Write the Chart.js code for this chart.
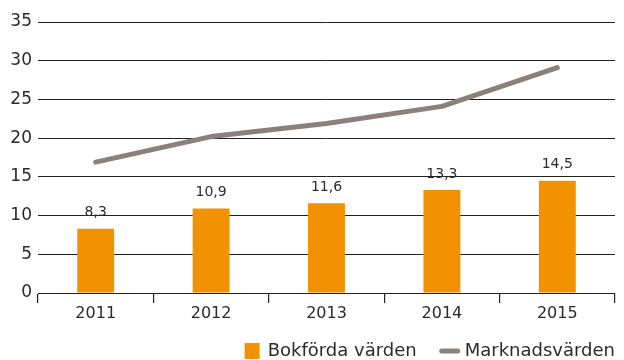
<!DOCTYPE html>
<html>
<head>
<meta charset="utf-8">
<script src="https://cdn.jsdelivr.net/npm/chart.js@4"></script>
<style>
  html, body { margin: 0; padding: 0; background: #fff; }
  #wrap { width: 624px; height: 360px; }
</style>
</head>
<body>
<div id="wrap"><canvas id="valueChart" width="624" height="360"></canvas></div>
<script>
const years = ["2011", "2012", "2013", "2014", "2015"]
const bookValues = [8.3, 10.9, 11.6, 13.3, 14.5]
const marketValues = [16.9, 20.2, 21.9, 24.1, 29.1]
const yTicks = [0, 5, 10, 15, 20, 25, 30, 35]

const FONT = "'DejaVu Sans', sans-serif"
const TEXT = "#2b2b2b"
const ORANGE = "#f39200"
const GREY = "#8a817c"

const fmt = (v) => v.toFixed(1).replace(".", ",")

// numbers above the bars
const barLabels = {
  id: "barLabels",
  afterDatasetsDraw(chart) {
    const ctx = chart.ctx
    const meta = chart.getDatasetMeta(0)
    ctx.save()
    ctx.font = "14px " + FONT
    ctx.fillStyle = TEXT
    ctx.textAlign = "center"
    ctx.textBaseline = "bottom"
    meta.data.forEach((bar, i) => {
      ctx.fillText(fmt(bookValues[i]), bar.x, bar.y - 9)
    })
    ctx.restore()
  },
}

// legend row, right aligned under the chart
const bottomLegend = {
  id: "bottomLegend",
  afterDraw(chart) {
    const ctx = chart.ctx
    const items = chart.data.datasets.map((d) => ({ label: d.label, type: d.type || "bar", color: d.type === "line" ? d.borderColor : d.backgroundColor }))
    ctx.save()
    ctx.font = "18px " + FONT
    ctx.textBaseline = "middle"
    const y = 351
    let x = 615
    for (let i = items.length - 1; i >= 0; i--) {
      const it = items[i]
      const w = ctx.measureText(it.label).width
      x -= w
      ctx.fillStyle = TEXT
      ctx.fillText(it.label, x, y)
      if (it.type === "line") {
        x -= 5
        ctx.strokeStyle = it.color
        ctx.lineWidth = 5
        ctx.lineCap = "round"
        ctx.beginPath()
        ctx.moveTo(x - 18, y)
        ctx.lineTo(x - 2, y)
        ctx.stroke()
        x -= 20
      } else {
        x -= 8
        ctx.fillStyle = it.color
        ctx.fillRect(x - 15, y - 8, 15, 16)
        x -= 15
      }
      x -= 23
    }
    ctx.restore()
  },
}

const ctx = document.getElementById("valueChart").getContext("2d")
new Chart(ctx, {
  data: {
    labels: years,
    datasets: [
      {
        type: "bar",
        label: "Bokförda värden",
        data: bookValues,
        backgroundColor: ORANGE,
        borderWidth: 0,
        barPercentage: 0.32,
        categoryPercentage: 1,
        order: 2,
      },
      {
        type: "line",
        label: "Marknadsvärden",
        data: marketValues,
        borderColor: GREY,
        borderWidth: 5,
        borderCapStyle: "round",
        borderJoinStyle: "round",
        pointRadius: 0,
        tension: 0,
        order: 1,
      },
    ],
  },
  options: {
    responsive: false,
    animation: false,
    layout: { padding: { top: 22, right: 9, bottom: 34, left: 0 } },
    plugins: {
      legend: { display: false },
      tooltip: { enabled: false },
    },
    scales: {
      x: {
        offset: true,
        grid: {
          offset: true,
          drawOnChartArea: false,
          drawTicks: true,
          tickLength: 10,
          color: "#222",
          lineWidth: 1.2,
        },
        border: { display: true, color: "#222", width: 1 },
        ticks: { color: TEXT, font: { family: FONT, size: 16 }, padding: 1 },
        afterFit(scale) {
          scale.height = 33
        },
      },
      y: {
        min: 0,
        max: 35,
        afterBuildTicks(scale) {
          scale.ticks = yTicks.map((v) => ({ value: v }))
        },
        grid: { drawTicks: false, color: "#222", lineWidth: 1 },
        border: { display: false },
        ticks: { color: TEXT, font: { family: FONT, size: 17 }, padding: 6 },
        afterFit(scale) {
          scale.width = 38
        },
      },
    },
  },
  plugins: [barLabels, bottomLegend],
})
</script>
</body>
</html>
